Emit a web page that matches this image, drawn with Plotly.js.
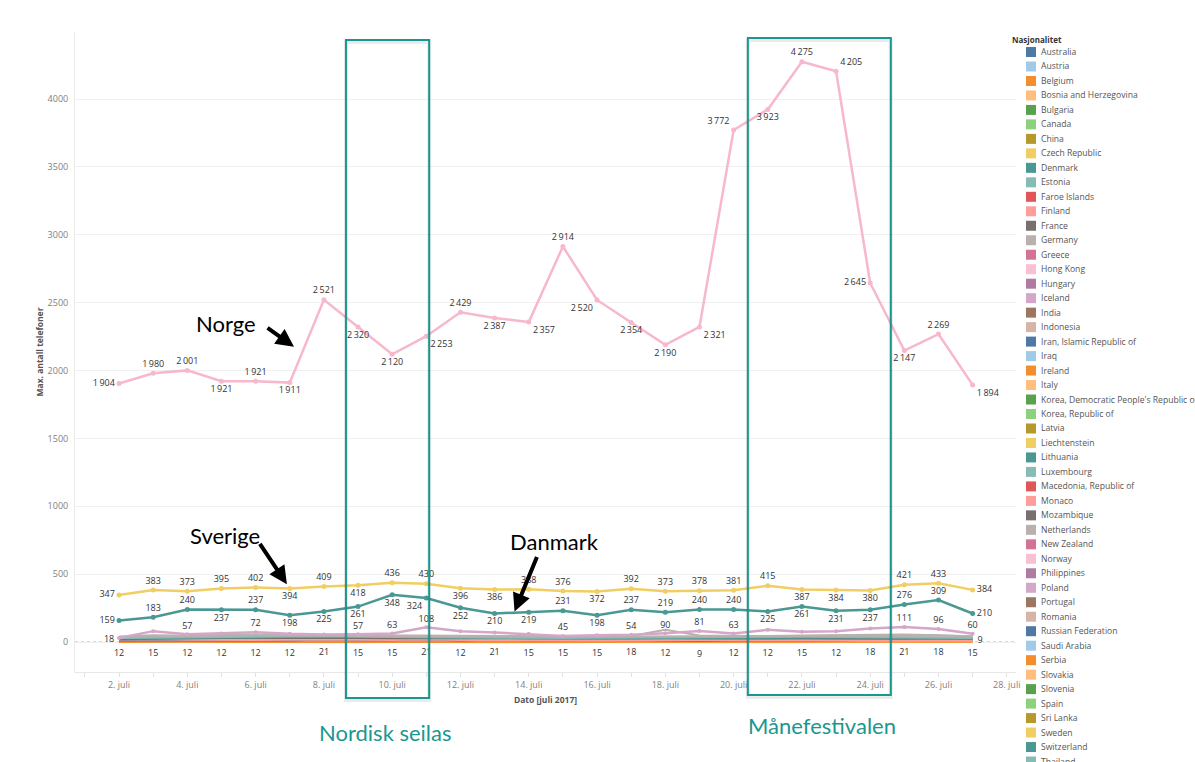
<!DOCTYPE html>
<html>
<head>
<meta charset="utf-8">
<script src="https://cdn.plot.ly/plotly-3.0.1.min.js"></script>
<style>
  html, body { margin: 0; padding: 0; background: #ffffff; }
  #chart { width: 1195px; height: 762px; }
</style>
</head>
<body>
<div id="chart"></div>
<script>
// Dates, 2.–27. juli 2017
const days = [
  '2017-07-02','2017-07-03','2017-07-04','2017-07-05','2017-07-06','2017-07-07',
  '2017-07-08','2017-07-09','2017-07-10','2017-07-11','2017-07-12','2017-07-13',
  '2017-07-14','2017-07-15','2017-07-16','2017-07-17','2017-07-18','2017-07-19',
  '2017-07-20','2017-07-21','2017-07-22','2017-07-23','2017-07-24','2017-07-25',
  '2017-07-26','2017-07-27'
];

// Max. antall telefoner per nasjonalitet
const norway  = [1904,1980,2001,1921,1921,1911,2521,2320,2120,2253,2429,2387,2357,2914,2520,2354,2190,2321,3772,3923,4275,4205,2645,2147,2269,1894];
const sweden  = [347,383,373,395,402,394,409,418,436,430,396,386,388,376,372,392,373,378,381,415,387,384,380,421,433,384];
const denmark = [159,183,240,237,237,198,225,261,348,324,252,210,219,231,198,237,219,240,240,225,261,231,237,276,309,210];
const poland  = [30,80,57,62,72,60,55,57,63,108,80,70,60,45,50,54,65,81,63,90,75,80,100,111,96,60];
const germany = [35,45,48,52,55,50,53,50,48,46,44,42,40,38,41,45,90,48,45,44,47,50,52,55,50,42];
const netherlands = [40,50,45,48,50,47,46,44,42,40,38,37,36,35,38,40,42,40,41,43,45,46,48,50,48,40];
const estonia = [30,32,35,33,38,40,42,38,36,35,33,34,32,30,31,33,34,32,35,36,38,37,36,35,34,30];
const switzerland = [25,30,32,34,33,40,42,38,35,33,30,29,28,27,29,31,30,28,27,29,31,33,35,34,32,28];
const france  = [20,25,28,30,29,31,33,30,28,27,26,25,24,23,25,26,27,25,24,26,28,27,29,30,28,25];
const austria = [22,24,26,25,27,26,28,27,30,29,27,26,25,27,26,28,27,25,26,28,30,29,31,30,29,27];
const finland = [18,20,16,14,15,17,19,16,14,18,15,13,16,14,12,15,13,11,14,12,13,11,12,10,11,9];
const russia  = [12,15,12,12,12,12,21,15,15,21,12,21,15,15,15,18,12,9,12,12,15,12,18,21,18,15];
const belgium = [3,6,5,4,4,3,5,6,4,5,4,5,4,3,4,5,4,3,4,5,4,6,8,7,6,5];
const bosnia  = [6,5,3,2,3,2,3,2,3,2,2,3,2,2,3,2,2,3,2,2,2,3,2,2,2,3];

// Legend categories (Nasjonalitet)
const countries = [
  'Australia','Austria','Belgium','Bosnia and Herzegovina','Bulgaria','Canada','China',
  'Czech Republic','Denmark','Estonia','Faroe Islands','Finland','France','Germany','Greece',
  'Hong Kong','Hungary','Iceland','India','Indonesia','Iran, Islamic Republic of','Iraq',
  'Ireland','Italy',"Korea, Democratic People's Republic of",'Korea, Republic of','Latvia',
  'Liechtenstein','Lithuania','Luxembourg','Macedonia, Republic of','Monaco','Mozambique',
  'Netherlands','New Zealand','Norway','Philippines','Poland','Portugal','Romania',
  'Russian Federation','Saudi Arabia','Serbia','Slovakia','Slovenia','Spain','Sri Lanka',
  'Sweden','Switzerland','Thailand'
];

// Tableau 20 palette, assigned to the categories in order
const palette = [
  '#4E79A7','#A0CBE8','#F28E2B','#FFBE7D','#59A14F','#8CD17D','#B6992D','#F1CE63',
  '#499894','#86BCB6','#E15759','#FF9D9A','#79706E','#BAB0AC','#D37295','#FABFD2',
  '#B07AA1','#D4A6C8','#9D7660','#D7B5A6'
];
const colorOf = name => palette[countries.indexOf(name) % palette.length];

// Label placement per point
const norwayPos = ['middle left','top center','top center','bottom center','top center','bottom center',
  'top center','bottom center','bottom center','bottom right','top center','bottom center','bottom right',
  'top center','bottom left','bottom center','bottom center','bottom right','top left','bottom center',
  'top center','top right','middle left','bottom center','top center','bottom right'];
const swedenPos = ['middle left','top center','top center','top center','top center','bottom center',
  'top center','bottom center','top center','top center','bottom center','bottom center','top center',
  'top center','bottom center','top center','top center','top center','top center','top center',
  'bottom center','bottom center','bottom center','top center','top center','middle right'];
const denmarkPos = ['middle left','top center','top center','bottom center','top center','bottom center',
  'bottom center','bottom center','bottom center','bottom left','bottom center','bottom center','bottom center',
  'top center','bottom center','top center','top center','top center','top center','bottom center',
  'bottom center','bottom center','bottom center','top center','top center','middle right'];
const polandLabelDays = [2,4,7,8,9,13,15,17,18,23,24,25];
const germanyLabelDays = [16];

const fmt = v => String(v).replace(/\B(?=(\d{3})+(?!\d))/g, '\u2009');
const allText = vals => vals.map(fmt);
const someText = (vals, idx) => vals.map((v, i) => idx.includes(i) ? fmt(v) : '');
const endsText = vals => vals.map((v, i) => (i === 0 || i === vals.length - 1) ? fmt(v) : '');
const endsPos = vals => vals.map((v, i) => i === 0 ? 'middle left' : 'middle right');

const labelFont = { family: 'Open Sans, sans-serif', size: 9, color: '#333333' };

function series(name, vals, opt) {
  return Object.assign({
    type: 'scatter', name: name, x: days, y: vals,
    mode: 'lines', line: { color: colorOf(name), width: 2 },
    textfont: labelFont, cliponaxis: false,
    hoverinfo: 'skip', showlegend: false
  }, opt || {});
}

const traces = [
  series('Bosnia and Herzegovina', bosnia, { line: { color: colorOf('Bosnia and Herzegovina'), width: 3 } }),
  series('Belgium', belgium, { line: { color: colorOf('Belgium'), width: 3 } }),
  // transparent markers keep the labels clear of the crowded base of the chart
  series('Russian Federation', russia, { mode: 'lines+markers+text', text: allText(russia), textposition: 'bottom center',
    marker: { size: 13, color: 'rgba(0,0,0,0)' },
    line: { color: colorOf('Russian Federation'), width: 2.5 } }),
  series('Finland', finland, { mode: 'lines+markers+text', text: endsText(finland), textposition: endsPos(finland),
    marker: { size: 6, color: 'rgba(0,0,0,0)' } }),
  series('Austria', austria),
  series('France', france),
  series('Switzerland', switzerland),
  series('Estonia', estonia),
  series('Netherlands', netherlands),
  series('Germany', germany, { mode: 'lines+text', text: someText(germany, germanyLabelDays), textposition: 'top center' }),
  series('Poland', poland, { mode: 'lines+markers+text', text: someText(poland, polandLabelDays),
    textposition: 'top center', marker: { size: 4, color: colorOf('Poland') },
    line: { color: colorOf('Poland'), width: 2.5 } }),
  series('Denmark', denmark, { mode: 'lines+markers+text', text: allText(denmark), textposition: denmarkPos,
    marker: { size: 5, color: colorOf('Denmark') }, line: { color: colorOf('Denmark'), width: 2.5 } }),
  series('Sweden', sweden, { mode: 'lines+markers+text', text: allText(sweden), textposition: swedenPos,
    marker: { size: 5, color: colorOf('Sweden') }, line: { color: colorOf('Sweden'), width: 2.5 } }),
  series('Norway', norway, { mode: 'lines+markers+text', text: allText(norway), textposition: norwayPos,
    marker: { size: 5, color: '#F7B8CC' }, line: { color: '#F7B8CC', width: 2.5 } })
];

// Plot-area geometry helpers (pixels -> paper fractions)
const M = { l: 75, r: 179, t: 32, b: 90 };
const W = 1195, H = 762;
const PW = W - M.l - M.r, PH = H - M.t - M.b;
const px = x => (x - M.l) / PW;
const py = y => (H - M.b - y) / PH;

const teal = '#1A978F';
const annotations = [];
const shapes = [];

// Zero reference line
shapes.push({ type: 'line', xref: 'paper', x0: 0, x1: 1, yref: 'y', y0: 0, y1: 0,
  line: { color: '#b5b5b5', width: 1, dash: 'dot' }, layer: 'between' });

// White box behind the "Norge" caption
shapes.push({ type: 'rect', xref: 'paper', yref: 'paper', x0: px(175), x1: px(303), y0: py(340), y1: py(296),
  fillcolor: '#ffffff', line: { width: 0 }, layer: 'between' });

// Event boxes
const events = [
  { name: 'Nordisk seilas', x0: '2017-07-08 15:30', x1: '2017-07-11 02:00', top: 40, bottom: 698, labelX: 385, labelY: 732 },
  { name: 'Månefestivalen', x0: '2017-07-20 10:00', x1: '2017-07-24 14:30', top: 38, bottom: 695, labelX: 822, labelY: 725 }
];
events.forEach(ev => {
  shapes.push({ type: 'rect', xref: 'x', yref: 'paper', x0: ev.x0, x1: ev.x1, y0: py(ev.bottom + 2), y1: py(ev.top + 2),
    line: { color: 'rgba(0,0,0,0.08)', width: 4 }, fillcolor: 'rgba(0,0,0,0)', layer: 'above', xshift: 2 });
  shapes.push({ type: 'rect', xref: 'x', yref: 'paper', x0: ev.x0, x1: ev.x1, y0: py(ev.bottom), y1: py(ev.top),
    line: { color: teal, width: 2 }, fillcolor: 'rgba(0,0,0,0)', layer: 'above' });
  annotations.push({ xref: 'paper', yref: 'paper', x: px(ev.labelX), y: py(ev.labelY),
    xanchor: 'center', yanchor: 'middle', text: ev.name, showarrow: false,
    font: { family: 'Lato, sans-serif', size: 22, color: teal } });
});

// Country call-outs with arrows
const callouts = [
  { text: 'Norge',   tx: 226, ty: 323, hx: '2017-07-07 03:00', hy: 2175, ax: -28, ay: -20 },
  { text: 'Sverige', tx: 225, ty: 535, hx: '2017-07-06 22:00', hy: 425,  ax: -28, ay: -42 },
  { text: 'Danmark', tx: 554, ty: 541, hx: '2017-07-13 14:00', hy: 225,  ax: 23,  ay: -56 }
];
callouts.forEach(c => {
  annotations.push({ xref: 'paper', yref: 'paper', x: px(c.tx), y: py(c.ty), xanchor: 'center', yanchor: 'middle',
    text: c.text, showarrow: false, font: { family: 'Lato, sans-serif', size: 22, color: '#000000' } });
  annotations.push({ xref: 'x', yref: 'y', x: c.hx, y: c.hy, ax: c.ax, ay: c.ay, text: '', showarrow: true,
    arrowhead: 2, arrowsize: 0.9, arrowwidth: 4, arrowcolor: '#000000' });
});

// Colour legend
annotations.push({ xref: 'paper', yref: 'paper', x: px(1010), y: py(40), xanchor: 'left', yanchor: 'middle',
  text: '<b>Nasjonalitet</b>', showarrow: false, font: { family: 'Open Sans, sans-serif', size: 8, color: '#333333' } });
countries.forEach((name, i) => {
  const cy = 52 + i * 14.48;
  shapes.push({ type: 'rect', xref: 'paper', yref: 'paper', x0: px(1026), x1: px(1036), y0: py(cy + 5), y1: py(cy - 5),
    fillcolor: colorOf(name), line: { width: 0 }, layer: 'above' });
  annotations.push({ xref: 'paper', yref: 'paper', x: px(1039), y: py(cy), xanchor: 'left', yanchor: 'middle',
    text: name, showarrow: false, font: { family: 'Open Sans, sans-serif', size: 8.6, color: '#555555' } });
});

const layout = {
  width: W, height: H,
  margin: M,
  paper_bgcolor: '#ffffff', plot_bgcolor: '#ffffff',
  showlegend: false,
  hovermode: false,
  xaxis: {
    type: 'date',
    range: ['2017-06-30 17:03', '2017-07-28 06:29'],
    tick0: '2017-07-02', dtick: 2 * 86400000,
    tickformat: '%-d. juli',
    ticks: 'outside', ticklen: 4, tickcolor: '#e2e2e2',
    minor: { dtick: 86400000, ticks: 'outside', ticklen: 4, tickcolor: '#e2e2e2', showgrid: false },
    showgrid: false, zeroline: false,
    showline: true, linecolor: '#e8e8e8', linewidth: 1,
    tickfont: { family: 'Open Sans, sans-serif', size: 9, color: '#808080' },
    title: { text: '<b>Dato [juli 2017]</b>', standoff: 7,
      font: { family: 'Open Sans, sans-serif', size: 8.5, color: '#555555' } }
  },
  yaxis: {
    range: [-221, 4494],
    tickvals: [0, 500, 1000, 1500, 2000, 2500, 3000, 3500, 4000],
    ticktext: ['0', '500', '1000', '1500', '2000', '2500', '3000', '3500', '4000'],
    showgrid: true, gridcolor: '#f0f0f0', gridwidth: 1,
    zeroline: false,
    showline: true, linecolor: '#ececec', linewidth: 1,
    ticks: '', ticklabelstandoff: 4,
    tickfont: { family: 'Open Sans, sans-serif', size: 9, color: '#808080' },
    title: { text: '<b>Max. antall telefoner</b>', standoff: 2,
      font: { family: 'Open Sans, sans-serif', size: 8.5, color: '#555555' } }
  },
  shapes: shapes,
  annotations: annotations
};

Plotly.newPlot('chart', traces, layout, { displayModeBar: false, staticPlot: true });
</script>
</body>
</html>
